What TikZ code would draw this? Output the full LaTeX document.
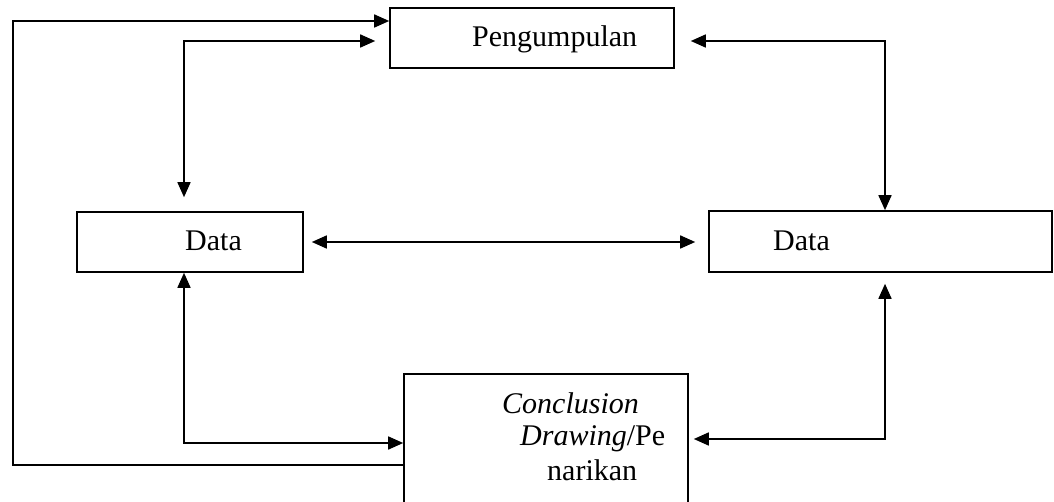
\documentclass[tikz,border=0pt]{standalone}
\usepackage{fontspec}
\setmainfont{Liberation Serif}
\usetikzlibrary{arrows.meta}
\begin{document}
\begin{tikzpicture}[x=1pt,y=-1pt,
  box/.style={draw,line width=1.6pt,inner sep=0pt,rectangle},
  lbl/.style={inner sep=0pt,anchor=base west,font=\fontsize{30}{34}\selectfont},
  conn/.style={line width=1.6pt},
  >={Triangle[length=15pt,width=13pt]}]
\clip (0,0) rectangle (1054,502);
\fill[white] (0,0) rectangle (1054,502);
% boxes
\node[box,minimum width=284pt,minimum height=60pt] (top) at (532,38) {};
\node[box,minimum width=226pt,minimum height=60pt] (dl) at (190,242) {};
\node[box,minimum width=343pt,minimum height=61pt] (dr) at (880.5,241.5) {};
\node[box,minimum width=284pt,minimum height=160pt] (bot) at (546,454) {};
% texts
\node[lbl] (ttop) at (472,47) {Pengumpulan};
\node[lbl] (tdl) at (185,251) {Data};
\node[lbl] (tdr) at (773,251) {Data};
\node[lbl] (tb1) at (502,413) {\itshape Conclusion};
\node[lbl] (tb2) at (520,445) {\itshape Drawing\upshape/Pe};
\node[lbl] (tb3) at (547,480) {narikan};
% corner coordinates
\coordinate (o1) at (13,465);
\coordinate (o2) at (13,21);
\coordinate (l1) at (184,41);
\coordinate (r1) at (885,41);
\coordinate (bl) at (184,443);
\coordinate (br) at (885,439);
% outer feedback loop
\draw[conn,->] (bot.west |- o1) -- (o1) -- (o2) -- (top.west |- o2);
% left top
\draw[conn,<->] ([yshift=14pt]dl.north -| l1) -- (l1) -- ([xshift=-14pt]top.west |- l1);
% right top
\draw[conn,<->] ([xshift=16pt]top.east |- r1) -- (r1) -- (dr.north -| r1);
% middle
\draw[conn,<->] ([xshift=8pt]dl.east) -- ([xshift=-13pt]dr.west |- dl.east);
% bottom left
\draw[conn,<->] (dl.south -| bl) -- (bl) -- (bot.west |- bl);
% bottom right
\draw[conn,<->] ([yshift=-11pt]dr.south -| br) -- (br) -- ([xshift=5pt]bot.east |- br);
\end{tikzpicture}
\end{document}
